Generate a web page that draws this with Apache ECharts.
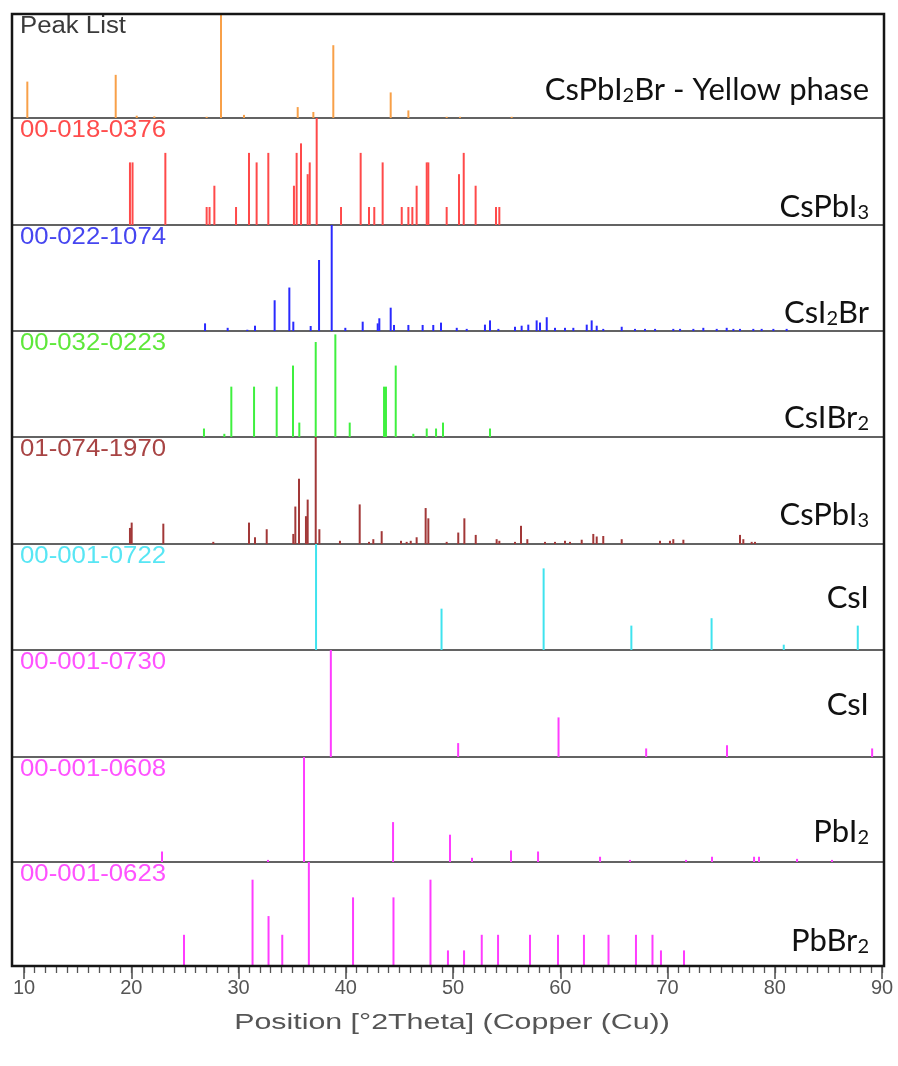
<!DOCTYPE html>
<html><head><meta charset="utf-8">
<script src="https://cdn.jsdelivr.net/npm/echarts@6/dist/echarts.min.js"></script>
<style>html,body{margin:0;padding:0;background:#fff}#c{width:898px;height:1066px}</style>
</head><body><div id="c"></div>
<script>
// ---------- data (2θ positions in degrees, relative intensities 0..1) ----------
const xTickLabels = [10, 20, 30, 40, 50, 60, 70, 80, 90];
const axisTitle = 'Position [°2Theta] (Copper (Cu))';

const refCodes = ['Peak List', '00-018-0376', '00-022-1074', '00-032-0223', '01-074-1970',
  '00-001-0722', '00-001-0730', '00-001-0608', '00-001-0623'];
const phaseNames = [
  '{n|CsPbI}{s|2}{n|Br - Yellow phase}', '{n|CsPbI}{s|3}', '{n|CsI}{s|2}{n|Br}', '{n|CsIBr}{s|2}',
  '{n|CsPbI}{s|3}', '{n|CsI}', '{n|CsI}', '{n|PbI}{s|2}', '{n|PbBr}{s|2}'];

const peakListPos = [10.31, 18.55, 20.51, 22.15, 27.03, 28.37, 30.51, 35.52, 36.98, 38.84, 44.19, 45.84, 49.41, 50.65, 55.47];
const peakListInt = [0.35, 0.415, 0.022, 0.016, 0.012, 1.0, 0.03, 0.105, 0.058, 0.70, 0.246, 0.073, 0.012, 0.012, 0.012];

const csPbI3aPos = [19.88, 20.12, 23.18, 27.03, 27.3, 27.75, 29.77, 30.98, 31.69, 32.78, 35.17, 35.42, 35.83, 36.45, 36.64, 37.29, 39.56, 41.39, 42.17, 42.66, 43.44, 45.22, 45.84, 46.21, 46.61, 47.55, 47.7, 49.41, 50.56, 51.0, 52.11, 54.01, 54.32];
const csPbI3aInt = [0.585, 0.585, 0.674, 0.168, 0.168, 0.367, 0.168, 0.674, 0.585, 0.674, 0.367, 0.674, 0.763, 0.475, 0.585, 1.0, 0.168, 0.674, 0.168, 0.168, 0.585, 0.168, 0.168, 0.168, 0.367, 0.585, 0.585, 0.168, 0.475, 0.674, 0.367, 0.168, 0.168];

const csI2BrPos = [26.88, 28.99, 30.82, 31.54, 33.37, 34.74, 35.11, 36.73, 37.51, 38.69, 39.96, 41.58, 42.98, 43.13, 44.19, 44.5, 45.84, 47.17, 48.16, 48.88, 50.35, 51.28, 52.98, 53.45, 54.23, 55.78, 56.4, 57.02, 57.8, 58.11, 58.74, 59.51, 60.44, 61.22, 62.47, 62.93, 63.4, 64.01, 65.73, 66.97, 67.9, 68.84, 70.54, 71.17, 72.41, 73.34, 74.59, 75.52, 76.14, 76.76, 78.0, 78.78, 79.87, 81.11];
const csI2BrInt = [0.072, 0.03, 0.012, 0.05, 0.29, 0.41, 0.088, 0.047, 0.67, 1.0, 0.03, 0.088, 0.072, 0.12, 0.22, 0.057, 0.057, 0.057, 0.057, 0.079, 0.03, 0.02, 0.06, 0.1, 0.02, 0.04, 0.05, 0.06, 0.1, 0.08, 0.13, 0.03, 0.03, 0.03, 0.06, 0.1, 0.05, 0.02, 0.04, 0.02, 0.02, 0.02, 0.02, 0.02, 0.02, 0.03, 0.02, 0.03, 0.02, 0.02, 0.02, 0.02, 0.02, 0.02];

const csIBr2Pos = [26.78, 28.68, 29.33, 31.45, 33.56, 35.08, 35.67, 37.2, 39.03, 40.37, 43.57, 43.75, 44.66, 46.3, 47.55, 48.42, 49.07, 53.45];
const csIBr2Int = [0.08, 0.03, 0.475, 0.475, 0.475, 0.674, 0.136, 0.896, 0.968, 0.136, 0.475, 0.475, 0.674, 0.03, 0.08, 0.08, 0.136, 0.08];

const csPbI3bPos = [19.88, 20.04, 22.99, 27.65, 30.98, 31.54, 32.63, 35.11, 35.3, 35.64, 36.29, 36.45, 37.2, 37.54, 39.46, 41.3, 42.17, 42.57, 43.35, 45.15, 45.68, 46.06, 46.61, 47.45, 47.7, 49.41, 50.49, 51.06, 52.12, 54.07, 54.32, 55.78, 56.34, 56.93, 58.58, 59.51, 60.44, 60.91, 62.0, 63.08, 63.4, 64.01, 65.73, 69.3, 70.23, 70.54, 71.48, 76.76, 77.07, 77.85, 78.16];
const csPbI3bInt = [0.15, 0.2, 0.19, 0.02, 0.2, 0.063, 0.138, 0.094, 0.35, 0.61, 0.26, 0.415, 1.0, 0.138, 0.03, 0.37, 0.02, 0.045, 0.12, 0.03, 0.02, 0.03, 0.063, 0.336, 0.24, 0.02, 0.107, 0.24, 0.085, 0.045, 0.03, 0.02, 0.17, 0.045, 0.02, 0.02, 0.03, 0.02, 0.04, 0.094, 0.07, 0.075, 0.045, 0.03, 0.03, 0.045, 0.04, 0.085, 0.045, 0.02, 0.02];

const csIaPos = [37.23, 48.93, 58.45, 66.63, 74.11, 80.84, 87.74];
const csIaInt = [1.0, 0.39, 0.77, 0.23, 0.30, 0.05, 0.23];

const csIbPos = [38.61, 50.48, 59.84, 68.01, 75.55, 89.08];
const csIbInt = [1.0, 0.13, 0.37, 0.08, 0.11, 0.08];

const pbI2Pos = [22.87, 32.75, 36.11, 44.41, 49.72, 51.77, 55.41, 57.93, 63.71, 66.5, 71.73, 74.15, 78.07, 78.53, 82.08, 85.34];
const pbI2Int = [0.1, 0.02, 1.0, 0.38, 0.26, 0.04, 0.11, 0.1, 0.05, 0.02, 0.02, 0.05, 0.05, 0.05, 0.03, 0.02];

const pbBr2Pos = [24.92, 31.31, 32.80, 34.08, 36.56, 40.68, 44.45, 47.90, 49.53, 51.03, 52.68, 54.20, 57.18, 59.79, 62.21, 64.50, 67.06, 68.60, 69.39, 71.54];
const pbBr2Int = [0.3, 0.83, 0.48, 0.3, 1.0, 0.66, 0.66, 0.83, 0.15, 0.15, 0.3, 0.3, 0.3, 0.3, 0.3, 0.3, 0.3, 0.3, 0.15, 0.15];

// ---------- styling / layout ----------
const panelPos = [peakListPos, csPbI3aPos, csI2BrPos, csIBr2Pos, csPbI3bPos, csIaPos, csIbPos, pbI2Pos, pbBr2Pos];
const panelInt = [peakListInt, csPbI3aInt, csI2BrInt, csIBr2Int, csPbI3bInt, csIaInt, csIbInt, pbI2Int, pbBr2Int];
const barColors = ['#f8a048', '#ff4a4a', '#2a2aff', '#3ff03f', '#a23838', '#3fe3ee', '#ff3cff', '#ff3cff', '#ff3cff'];
const codeColors = ['#3a3a3a', '#ff4c4c', '#4646f0', '#5ee83a', '#a84444', '#58e6f4', '#ff52ff', '#ff52ff', '#ff52ff'];
const edges = [14, 118, 225, 331, 437, 544, 650, 757, 862, 966];
const phaseY = [84, 201, 307, 412, 509, 597, 704, 826, 935];
const FRAME_L = 12, FRAME_R = 884;
const PX_PER_DEG = 10.725, X10 = 24;
const XMIN = 10 - (X10 - FRAME_L) / PX_PER_DEG;
const XMAX = 10 + (FRAME_R - X10) / PX_PER_DEG;
const SUB_DROP = 11;

const minorTicks = []; for (let v = 10; v <= 90; v++) minorTicks.push(v);

const grids = [], xAxes = [], yAxes = [], series = [];
const n = panelPos.length;
for (let i = 0; i < n; i++) {
  grids.push({ left: FRAME_L, width: FRAME_R - FRAME_L, top: edges[i], height: edges[i + 1] - edges[i],
    show: true, borderColor: '#5a5a5a', borderWidth: 1.5, outerBoundsMode: 'none', containLabel: false });
  const last = i === n - 1;
  xAxes.push({ type: 'value', gridIndex: i, position: 'bottom', min: XMIN, max: XMAX, show: last,
    axisLine: { show: last, onZero: false, lineStyle: { color: '#222', width: 2 } },
    axisTick: { show: last, customValues: minorTicks, length: 7, lineStyle: { color: '#555', width: 1.3 } },
    axisLabel: { show: false }, splitLine: { show: false } });
  yAxes.push({ type: 'value', gridIndex: i, min: 0, max: 1, show: false, splitLine: { show: false } });
  series.push({ type: 'bar', xAxisIndex: i, yAxisIndex: i, barWidth: 2, silent: true, clip: false,
    itemStyle: { color: barColors[i] },
    data: panelPos[i].map((p, j) => [p, panelInt[i][j]]) });
}
xAxes.push({ type: 'value', gridIndex: n - 1, position: 'bottom', min: XMIN, max: XMAX,
  axisLine: { show: true, onZero: false, lineStyle: { color: '#222', width: 2 } },
  axisTick: { show: true, customValues: xTickLabels, length: 13, lineStyle: { color: '#555', width: 1.6 } },
  axisLabel: { show: true, customValues: xTickLabels, margin: 12, color: '#555', fontSize: 20, fontFamily: 'Liberation Sans' },
  splitLine: { show: false } });

const graphics = [];
graphics.push({ type: 'rect', z: 100, silent: true,
  shape: { x: FRAME_L, y: edges[0], width: FRAME_R - FRAME_L, height: edges[n] - edges[0] },
  style: { fill: 'none', stroke: '#151515', lineWidth: 2.5 } });
for (let i = 0; i < n; i++) {
  graphics.push({ type: 'text', z: 50, x: 20, y: edges[i] + 13, scaleX: 1.12,
    style: { text: refCodes[i], x: 0, y: 0, fill: codeColors[i], fontSize: 23, fontFamily: 'Liberation Sans',
      verticalAlign: 'middle', align: 'left' } });
  const hasSub = phaseNames[i].indexOf('{s|') >= 0;
  graphics.push({ type: 'text', z: 50, x: 869, y: phaseY[i] + (hasSub ? SUB_DROP / 2 : 0),
    style: { text: phaseNames[i], x: 0, y: 0, align: 'right', verticalAlign: 'middle', fill: '#111',
      rich: {
        n: { fontSize: 31, fontFamily: 'Lato', lineHeight: 30, verticalAlign: 'top', fill: '#111', color: '#111' },
        s: { fontSize: 20, fontFamily: 'Lato', lineHeight: 30, verticalAlign: 'top', padding: [SUB_DROP, 0, 0, 0], fill: '#111', color: '#111' }
      } } });
}
graphics.push({ type: 'text', z: 50, x: 452, y: 1023, scaleX: 1.38,
  style: { text: axisTitle, x: 0, y: 0, align: 'center', verticalAlign: 'middle', fill: '#555',
    fontSize: 22, fontFamily: 'Liberation Sans' } });

const chart = echarts.init(document.getElementById('c'), null, { renderer: 'canvas' });
chart.setOption({
  animation: false,
  backgroundColor: '#fff',
  grid: grids, xAxis: xAxes, yAxis: yAxes, series: series,
  graphic: graphics
});
</script></body></html>
